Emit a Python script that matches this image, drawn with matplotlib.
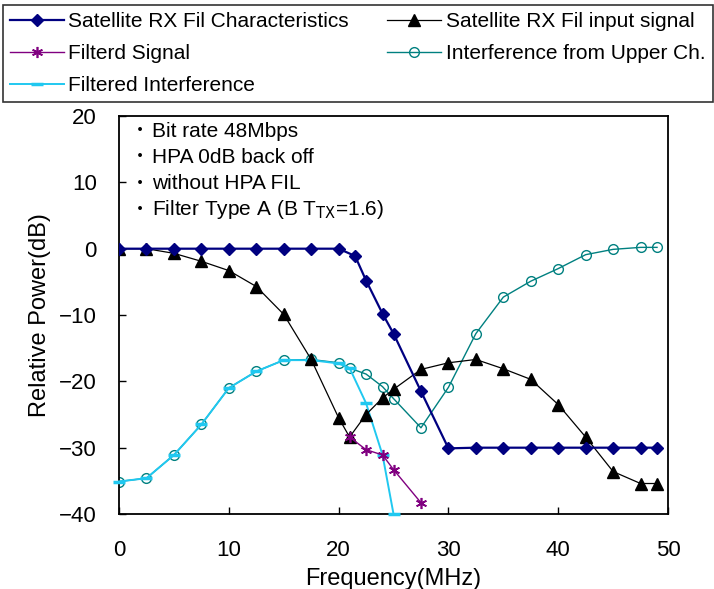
import numpy as np
import matplotlib.pyplot as plt

plt.rcParams['font.family'] = ['Liberation Sans Narrow', 'Liberation Sans', 'DejaVu Sans',
                               'Noto Sans CJK JP']

# ---- data ----
fil_x = [0, 2.5, 5, 7.5, 10, 12.5, 15, 17.5, 20, 21.5, 22.5, 24, 25, 27.5, 30,
         32.5, 35, 37.5, 40, 42.5, 45, 47.5, 49]
fil_y = [0, 0, 0, 0, 0, 0, 0, 0, 0, -1.1, -4.8, -9.8, -12.8, -21.5, -30.1,
         -30, -30, -30, -30, -30, -30, -30, -30]

inp_x = [0, 2.5, 5, 7.5, 10, 12.5, 15, 17.5, 20, 21, 22.5, 24, 25, 27.5, 30,
         32.5, 35, 37.5, 40, 42.5, 45, 47.5, 49]
inp_y = [0, 0, -0.7, -1.9, -3.3, -5.7, -9.9, -16.7, -25.5, -28.4, -25.0, -22.5,
         -21.2, -18.2, -17.2, -16.7, -18.1, -19.7, -23.5, -28.4, -33.6, -35.4, -35.4]

sig_x = [21, 22.5, 24, 25, 27.5]
sig_y = [-28.4, -30.3, -31.1, -33.3, -38.3]

intf_x = [0, 2.5, 5, 7.5, 10, 12.5, 15, 17.5, 20, 21, 22.5, 24, 25, 27.5, 30,
          32.5, 35, 37.5, 40, 42.5, 45, 47.5, 49]
intf_y = [-35.1, -34.6, -31.1, -26.5, -21.0, -18.5, -16.8, -16.7, -17.2, -18.0,
          -18.9, -20.8, -22.6, -27.0, -20.9, -12.8, -7.3, -4.9, -3.0, -0.9,
          -0.1, 0.2, 0.2]

fint_x = [0, 2.5, 5, 7.5, 10, 12.5, 15, 17.5, 20, 21, 22.5, 24, 25]
fint_y = [-35.1, -34.6, -31.1, -26.5, -21.0, -18.5, -16.8, -16.8, -17.3, -18.0,
          -23.3, -31.1, -40.0]

notes = ["Bit rate 48Mbps", "HPA 0dB back off", "without HPA FIL",
         "Filter Type A (B T$_{\\mathrm{TX}}$=1.6)"]

fig = plt.figure(figsize=(7.14, 5.89), dpi=100)
ax = fig.add_axes([0.1667, 0.1273, 0.7689, 0.6757])

asterisk = (6, 2, 0)
ax.plot(fil_x, fil_y, color='#000080', lw=1.6, marker='D', ms=6.5,
        label='Satellite RX Fil Characteristics', zorder=5)
ax.plot(inp_x, inp_y, color='black', lw=0.9, marker='^', ms=8.5,
        label='Satellite RX Fil input signal', zorder=4)
ax.plot(sig_x, sig_y, color='#800080', lw=1.0, marker=asterisk, ms=8, mew=1.2,
        label='Filterd Signal', zorder=6)
ax.plot(intf_x, intf_y, color='#008080', lw=1.0, marker='o', ms=7, mfc='none',
        mew=1.0, label='Interference from Upper Ch.', zorder=2)
ax.plot(fint_x, fint_y, color='#20C8F0', lw=1.4, marker='_', ms=9, mew=2.5,
        label='Filtered Interference', zorder=3, clip_on=False)

ax.set_xlim(0, 50)
ax.set_ylim(-40, 20)
ax.set_xticks(range(0, 51, 10))
ax.set_yticks(range(-40, 21, 10))
ax.tick_params(direction='in', length=5, width=1, labelsize=16)
ax.tick_params(axis='x', pad=19)
ax.tick_params(axis='y', pad=16)
for s in ax.spines.values():
    s.set_linewidth(1.3)

ax.set_xlabel('Frequency(MHz)', fontsize=17, labelpad=5)
ax.set_ylabel('Relative Power(dB)', fontsize=17, labelpad=6)

for i, t in enumerate(notes):
    yy = 0.962 - i * 0.066
    ax.text(0.022, yy, '・', transform=ax.transAxes, fontsize=13, va='center',
            family=['Noto Sans CJK JP'])
    ax.text(0.06, yy, t, transform=ax.transAxes, fontsize=15, va='center')

# legend reads row by row in the reference; matplotlib fills columns first
h, l = ax.get_legend_handles_labels()
order = [0, 2, 4, 1, 3]
leg = fig.legend([h[i] for i in order], [l[i] for i in order], ncol=2,
                 loc='upper left', bbox_to_anchor=(0.004, 0.835, 0.994, 0.157),
                 mode='expand', fontsize=15, frameon=True, fancybox=False,
                 edgecolor='black', handlelength=2.6, handletextpad=0.2,
                 borderaxespad=0, labelspacing=0.62, columnspacing=0.3,
                 borderpad=0.35)
leg.get_frame().set_linewidth(1.2)

fig.savefig('out.png', dpi=100)
